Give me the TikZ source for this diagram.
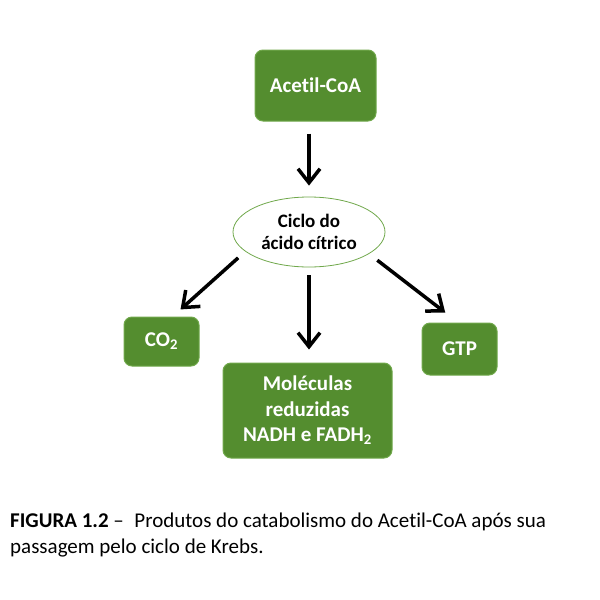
\documentclass[tikz,border=0pt]{standalone}
\usepackage{fontspec}
\setmainfont[Ligatures=NoCommon]{Carlito}
\usetikzlibrary{shapes.geometric,arrows.meta}
\definecolor{leafgreen}{RGB}{84,141,47}
\definecolor{leafedge}{RGB}{112,168,75}

\begin{document}
\begin{tikzpicture}[x=1pt,y=-1pt,
	greenbox/.style={draw=leafedge,line width=1pt,fill=leafgreen,rounded corners=8pt,text=white,
		font=\fontsize{21}{25.5}\selectfont\bfseries,align=center,inner sep=0pt},
	cycle/.style={ellipse,draw=leafedge,line width=0.8pt,fill=white,
		font=\fontsize{19}{22.5}\selectfont\bfseries,align=center,inner sep=0pt,
		minimum width=152pt,minimum height=70pt},
	flow/.style={-{Straight Barb[length=14pt,width=22pt]},line width=3.5pt},
	caption/.style={font=\fontsize{21}{26}\selectfont,align=left,inner sep=0pt}]

	\useasboundingbox (0,0) rectangle (600,600);

	% boxes
	\node[greenbox,minimum width=121pt,minimum height=71pt] (acetil) at (315.5,85.5) {Acetil-CoA};
	\node[cycle] (ciclo) at (309,232) {Ciclo do\\ácido cítrico};
	\node[greenbox,minimum width=75pt,minimum height=49pt] (co2) at (161.5,341.5) {CO\textsubscript{2}};
	\node[greenbox,minimum width=169pt,minimum height=95pt] (nadh) at (307.5,410.5) {Moléculas\\reduzidas\\NADH e FADH\textsubscript{2}};
	\node[greenbox,minimum width=75pt,minimum height=52pt] (gtp) at (459.5,349) {GTP};

	% arrows
	\draw[flow,shorten <=12pt,shorten >=11pt] (acetil.south -| ciclo.north) -- (ciclo.north);
	\draw[flow,shorten <=9.5pt,shorten >=10.6pt] (ciclo.197) -- (co2.66);
	\draw[flow,shorten <=8pt,shorten >=13pt] (ciclo.south) -- (ciclo.south |- nadh.north);
	\draw[flow,shorten <=10.4pt,shorten >=16.2pt] (ciclo.340) -- (gtp.93);

	% legenda
	\node[caption,anchor=north west] (legenda) at (10,513) {\textbf{FIGURA 1.2} –\enspace Produtos do catabolismo do Acetil-CoA após sua\\passagem pelo ciclo de Krebs.};
\end{tikzpicture}
\end{document}
